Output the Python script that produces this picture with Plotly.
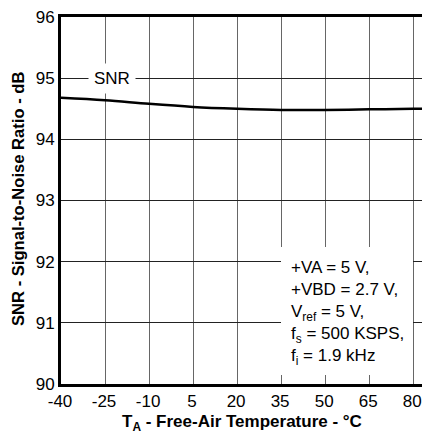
import plotly.graph_objects as go

temps = [-40, -25, -10, 5, 20, 35, 50, 65, 80, 83]
snr = [94.68, 94.64, 94.58, 94.53, 94.50, 94.48, 94.48, 94.49, 94.50, 94.50]
x_ticks = [-40, -25, -10, 5, 20, 35, 50, 65, 80]
x_labels = ["-40", "-25", "-10", "5", "20", "35", "50", "65", "80"]
y_ticks = [90, 91, 92, 93, 94, 95, 96]
cond_text = "+VA = 5 V,<br>+VBD = 2.7 V,<br>V<sub>ref</sub> = 5 V,<br>f<sub>s</sub> = 500 KSPS,<br>f<sub>i</sub> = 1.9 kHz"

font = "Liberation Sans"
W, H = 422, 433
L, R, T, B = 61, 422, 17, 384


def px(xp):
    return (xp - L) / (R - L)


def py(yp):
    return (B - yp) / (B - T)


fig = go.Figure()
fig.add_trace(go.Scatter(x=temps, y=snr, mode="lines", line=dict(color="black", width=2.5, shape="spline"),
                         showlegend=False, hoverinfo="skip"))

# SNR label with white gap
fig.add_annotation(x=-22.5, y=95, text="SNR", showarrow=False, bgcolor="white",
                   font=dict(family=font, size=17, color="black"), borderpad=5)

# white box behind conditions
fig.add_shape(type="rect", xref="paper", yref="paper", x0=px(281), x1=px(413), y0=py(375), y1=py(247),
              fillcolor="white", line=dict(width=0), layer="above")
fig.add_annotation(x=px(290), y=py(257), xref="paper", yref="paper",
                   text=cond_text, showarrow=False, align="left", borderpad=0,
                   font=dict(family=font, size=17, color="black"),
                   xanchor="left", yanchor="top")

# axis titles
fig.add_annotation(x=0.5, y=py(423), xref="paper", yref="paper", showarrow=False,
                   text="<b>T<sub>A</sub> - Free-Air Temperature - °C</b>",
                   font=dict(family=font, size=17, color="black"), xanchor="center", yanchor="middle")
fig.add_annotation(x=px(18.5), y=py(199.5), xref="paper", yref="paper", showarrow=False, textangle=-90,
                   text="<b>SNR - Signal-to-Noise Ratio - dB</b>",
                   font=dict(family=font, size=16.6, color="black"), xanchor="center", yanchor="middle")

fig.update_layout(
    width=W, height=H,
    margin=dict(l=L, r=W - R, t=T, b=H - B, autoexpand=False),
    plot_bgcolor="white", paper_bgcolor="white",
    font=dict(family=font, size=17, color="black"),
    xaxis=dict(range=[-40, 83], tickvals=x_ticks, ticktext=x_labels, ticks="", showgrid=True,
               gridcolor="#666", gridwidth=1.2, ticklabeloverflow="allow", automargin=False,
               ticklabelshift=-1,
               showline=True, linecolor="black", linewidth=3, mirror=True, zeroline=False,
               tickfont=dict(size=17)),
    yaxis=dict(range=[90, 96], tickvals=y_ticks, ticks="", showgrid=True, gridcolor="#222", gridwidth=1,
               showline=True, linecolor="black", linewidth=3, zeroline=False, automargin=False,
               ticklabeloverflow="allow", tickfont=dict(size=17)),
)
fig.write_html("out.html", config={"displayModeBar": False},
               post_script="document.body.style.margin='0';document.body.style.padding='0';"
                           "document.documentElement.style.overflow='hidden';")
